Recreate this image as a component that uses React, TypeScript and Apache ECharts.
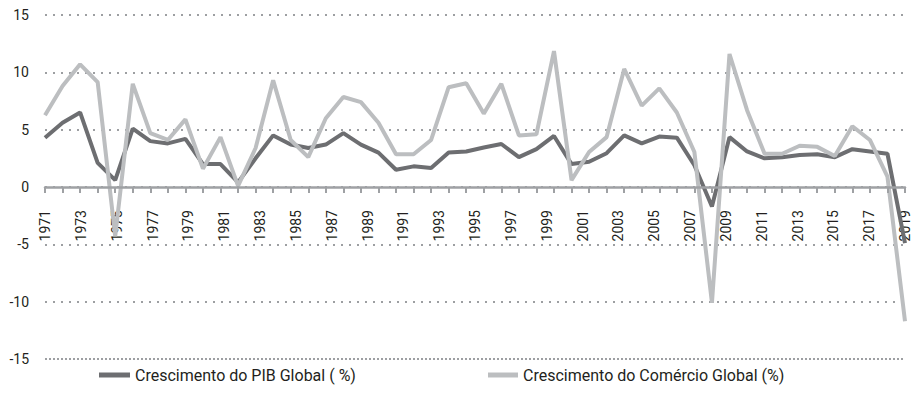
import React, { useEffect, useRef } from "react";
import * as echarts from "echarts";

const years = [
  "1971", "1972", "1973", "1974", "1975", "1976", "1977", "1978", "1979", "1980",
  "1981", "1982", "1983", "1984", "1985", "1986", "1987", "1988", "1989", "1990",
  "1991", "1992", "1993", "1994", "1995", "1996", "1997", "1998", "1999", "2000",
  "2001", "2002", "2003", "2004", "2005", "2006", "2007", "2008", "2009", "2010",
  "2011", "2012", "2013", "2014", "2015", "2016", "2017", "2018", "2019", "2020",
];

// tick labels as printed under the axis (1971 … 2019, every other one shown)
const tickLabels = [
  "1971", "1972", "1973", "1974", "1975", "1976", "1977", "1978", "1979", "1980",
  "1981", "1982", "1983", "1984", "1985", "1986", "1987", "1988", "1989", "1990",
  "1991", "1992", "1993", "1994", "1995", "1996", "1997", "1998", "1999", "2000",
  "2001", "2002", "2003", "2004", "2005", "2006", "2007", "2008", "2009", "2010",
  "2011", "2012", "2013", "2014", "2015", "2016", "2017", "2018", "2019",
];

const pibGlobal = [
  4.3, 5.6, 6.5, 2.1, 0.6, 5.1, 4.0, 3.8, 4.2, 2.0,
  2.0, 0.4, 2.5, 4.5, 3.7, 3.4, 3.7, 4.7, 3.7, 3.0,
  1.5, 1.8, 1.65, 3.0, 3.1, 3.45, 3.75, 2.6, 3.3, 4.45,
  2.0, 2.2, 2.95, 4.5, 3.8, 4.4, 4.3, 1.9, -1.7, 4.35,
  3.1, 2.5, 2.6, 2.8, 2.85, 2.6, 3.3, 3.1, 2.9, -4.9,
];

const comercioGlobal = [
  6.25, 8.8, 10.7, 9.15, -4.3, 9.0, 4.7, 4.1, 5.9, 1.6,
  4.35, 0.1, 3.4, 9.3, 4.1, 2.6, 6.0, 7.85, 7.4, 5.6,
  2.85, 2.85, 4.1, 8.7, 9.05, 6.4, 9.0, 4.5, 4.6, 11.85,
  0.6, 3.05, 4.35, 10.3, 7.1, 8.6, 6.5, 3.05, -10.1, 11.6,
  6.7, 2.9, 2.9, 3.6, 3.5, 2.7, 5.3, 4.1, 0.9, -11.7,
];

const seriesNames = ["Crescimento do PIB Global ( %)", "Crescimento do Comércio Global (%)"];

const FONT = "Roboto, 'Noto Sans', sans-serif";
const DARK = "#6d6e71";
const LIGHT = "#bcbec0";
const AXIS = "#9fa1a4";
const GRIDLINE = "#9d9fa2";
const TEXT = "#231f20";

// grid: top 15, bottom 51 on a 410px canvas -> plot height 344; value 0 sits 172px above the bottom
const ZERO_OFFSET = -172;

export default function App() {
  const ref = useRef<HTMLDivElement>(null);

  useEffect(() => {
    if (!ref.current) return;
    const chart = echarts.init(ref.current, undefined, { renderer: "svg" });
    chart.setOption({
      animation: false,
      backgroundColor: "#ffffff",
      textStyle: { fontFamily: FONT },
      grid: { left: 45, right: 9, top: 15, bottom: 51 },
      legend: [
        {
          data: [seriesNames[0]],
          left: 94,
          top: 362,
          icon: "rect",
          itemWidth: 31,
          itemHeight: 5,
          itemGap: 6,
          textStyle: { fontFamily: FONT, fontSize: 16, color: TEXT },
        },
        {
          data: [seriesNames[1]],
          left: 483,
          top: 362,
          icon: "rect",
          itemWidth: 30,
          itemHeight: 5,
          itemGap: 6,
          textStyle: { fontFamily: FONT, fontSize: 16, color: TEXT },
        },
      ],
      xAxis: [
        {
          type: "category",
          data: years,
          boundaryGap: false,
          z: 10,
          axisLine: { show: true, onZero: true, lineStyle: { color: AXIS, width: 2.5 } },
          axisTick: { show: true, interval: 0, length: 6, lineStyle: { color: AXIS, width: 2 } },
          axisLabel: { show: false },
          splitLine: { show: false },
        },
        {
          type: "category",
          data: tickLabels,
          boundaryGap: false,
          position: "bottom",
          offset: ZERO_OFFSET,
          axisLine: { show: false, onZero: false },
          axisTick: { show: false },
          axisLabel: {
            show: true,
            interval: 1,
            rotate: 90,
            margin: 23,
            fontFamily: FONT,
            fontSize: 14,
            color: TEXT,
          },
          splitLine: { show: false },
        },
      ],
      yAxis: {
        type: "value",
        min: -15,
        max: 15,
        interval: 5,
        axisLine: { show: false },
        axisTick: { show: false },
        axisLabel: { fontFamily: FONT, fontSize: 14, color: TEXT, margin: 16 },
        splitLine: { show: true, lineStyle: { color: GRIDLINE, width: 2, type: [2, 6] } },
      },
      series: [
        {
          name: seriesNames[0],
          type: "line",
          xAxisIndex: 0,
          data: pibGlobal,
          showSymbol: false,
          symbol: "none",
          color: DARK,
          lineStyle: { color: DARK, width: 4 },
          markLine: {
            silent: true,
            symbol: "none",
            label: { show: false },
            lineStyle: { color: GRIDLINE, width: 2, type: [2, 2] },
            data: [{ yAxis: -15 }],
          },
        },
        {
          name: seriesNames[1],
          type: "line",
          xAxisIndex: 0,
          data: comercioGlobal,
          showSymbol: false,
          symbol: "none",
          color: LIGHT,
          lineStyle: { color: LIGHT, width: 4 },
        },
      ],
    });
    return () => chart.dispose();
  }, []);

  return (
    <div
      ref={ref}
      style={{ position: "fixed", left: 0, top: 0, width: 914, height: 410, background: "#fff" }}
    />
  );
}
